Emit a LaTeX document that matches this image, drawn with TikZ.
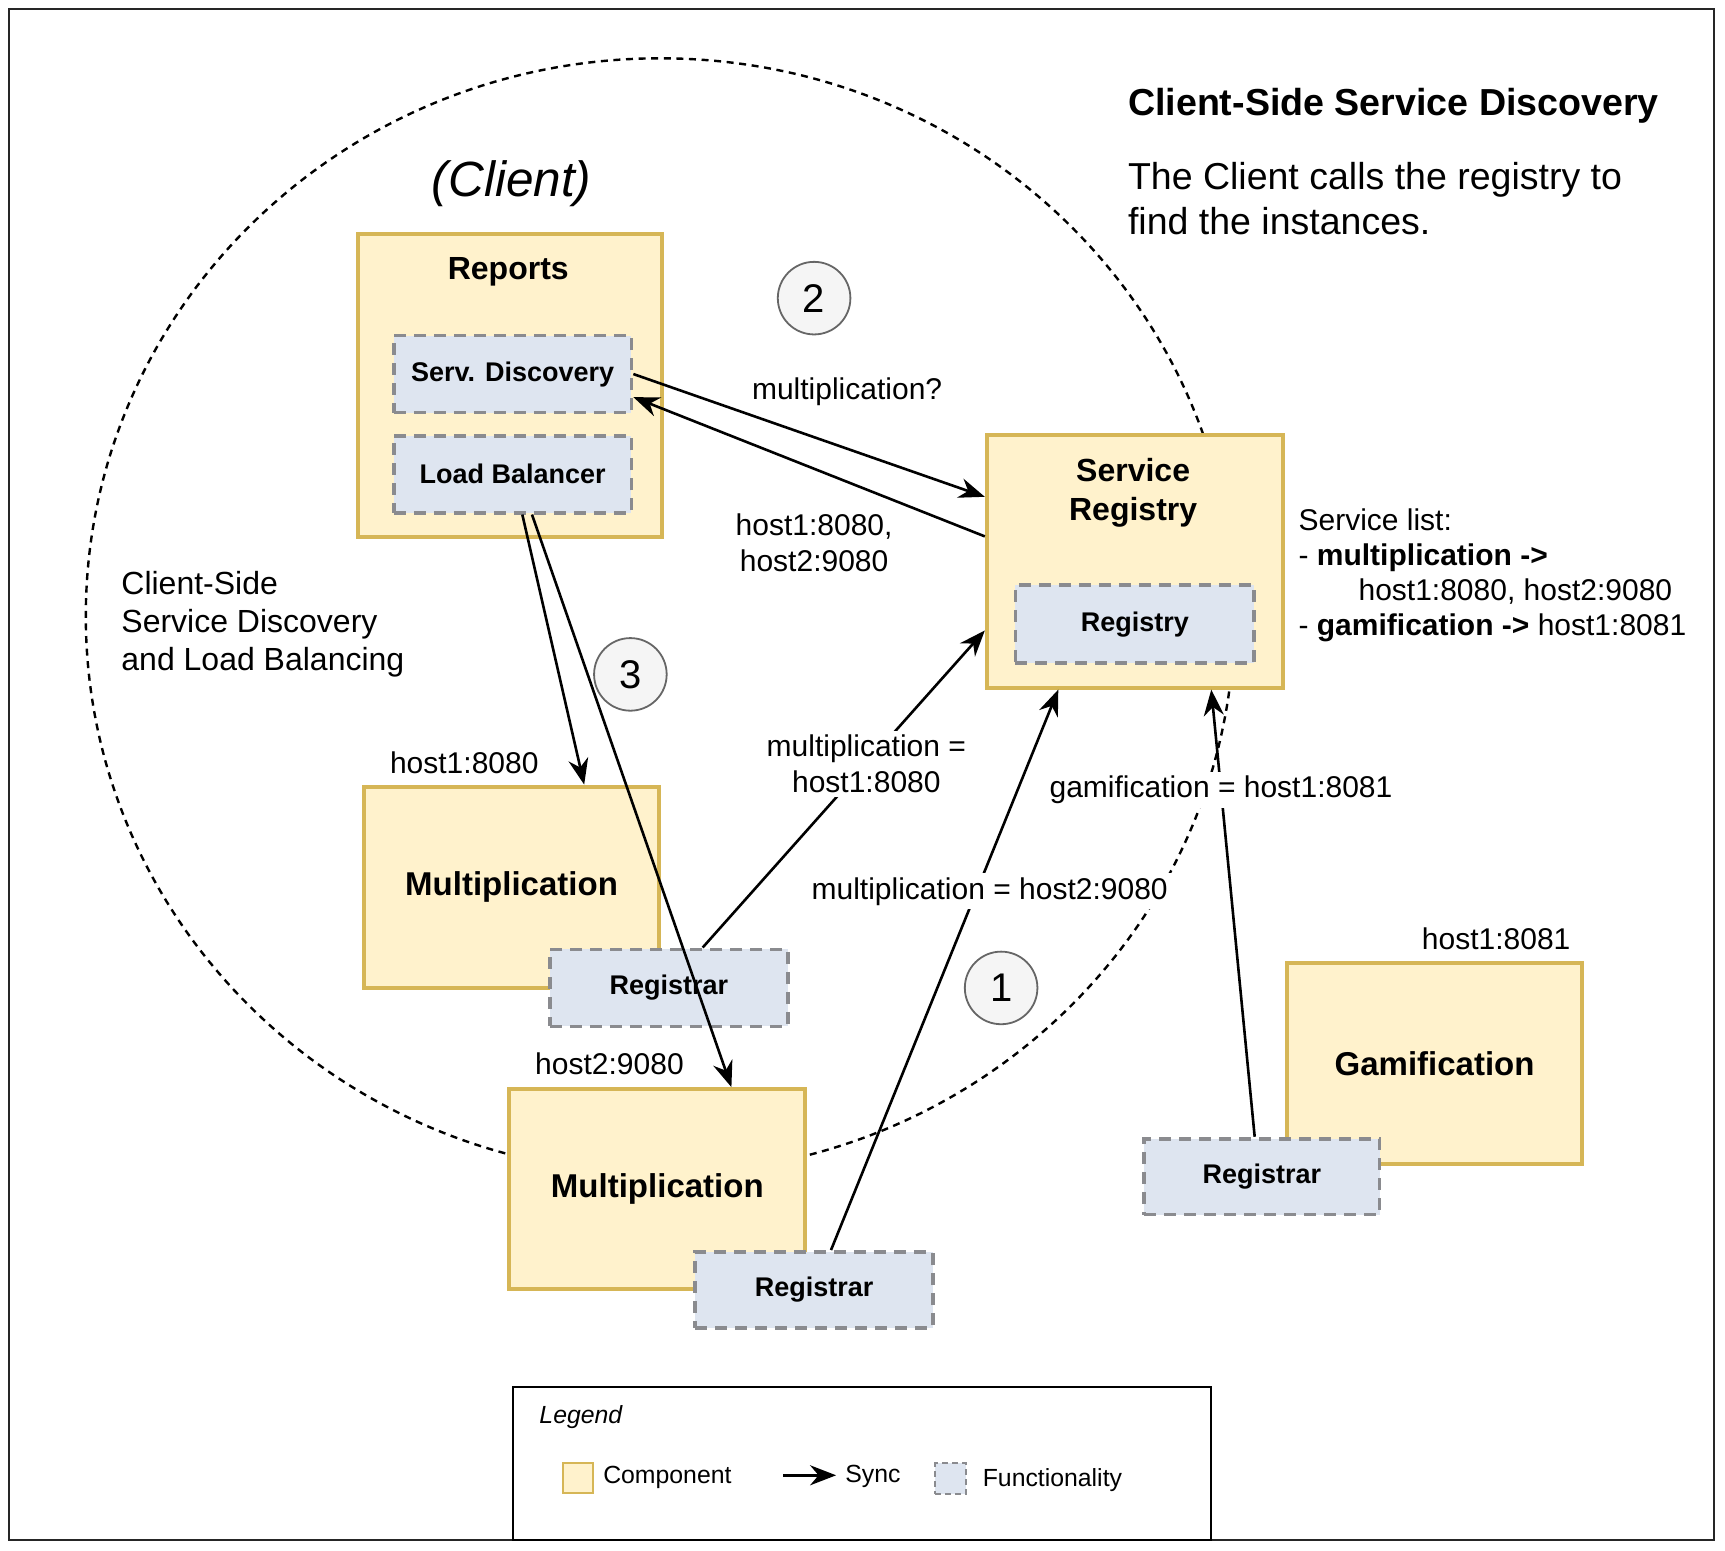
\documentclass[tikz,border=0pt]{standalone}
\usepackage{fontspec}
\setmainfont{Liberation Sans}
\usetikzlibrary{arrows.meta, calc, positioning}
\definecolor{compfill}{HTML}{FFF2CC}
\definecolor{compline}{HTML}{D6B656}
\definecolor{funcfill}{HTML}{DEE5F0}
\definecolor{funcline}{HTML}{8A8B8F}
\definecolor{numfill}{HTML}{F5F5F5}
\definecolor{numline}{HTML}{666666}
\newcommand{\fs}[2]{\fontsize{#1}{#2}\selectfont}

\begin{document}
\begin{tikzpicture}[x=0.55pt, y=-0.55pt,
  wh/.style 2 args={minimum width=#1*0.55pt, minimum height=#2*0.55pt}]
\tikzstyle{every node}+=[inner sep=0pt]
\tikzstyle{comp}=[draw=compline, fill=compfill, line width=2pt]
\tikzstyle{func}=[draw=funcline, fill=funcfill, line width=1.9pt, dash pattern=on 6pt off 4pt, font=\fs{13.5}{16}\bfseries]
\tikzstyle{big}=[font=\fs{16.5}{20}\bfseries]
\tikzstyle{num}=[circle, draw=numline, fill=numfill, line width=0.9pt, minimum size=36.3pt, font=\fs{20}{24}]
\tikzstyle{lbl}=[font=\fs{15}{18}, align=center]
\tikzstyle{cut}=[lbl, fill=white, inner sep=2pt]
\tikzstyle{sync}=[-{Stealth[length=13pt, width=10pt]}, line width=1.3pt, black]
\tikzstyle{key}=[font=\fs{12.4}{15}, anchor=west]
\useasboundingbox (0,0) rectangle (1568,1409);
\draw [line width=1pt, black!85] (8,8) rectangle (1558,1400);
\draw [line width=1.2pt, dash pattern=on 3.5pt off 2.8pt] (600,560) ellipse [x radius=522, y radius=507];

\node [font=\fs{18.8}{22.5}\bfseries, anchor=west] (title) at (1025,96) {Client-Side Service Discovery};
\node [font=\fs{18.75}{22.5}, anchor=west, align=left] (desc) at (1025,180.5) {The Client calls the registry to\\find the instances.};
\node [font=\fs{24.75}{29}\itshape] (client) at (465,167) {(Client)};
\node [font=\fs{16}{19}, anchor=west, align=left] (sidenote) at (110,567.5) {Client-Side\\Service Discovery\\and Load Balancing};

\node [comp, wh={277}{275}] (reports) at (463.5,350.5) {};
\node [font=\fs{16}{19.8}\bfseries] (reportsT) at (462,247) {Reports};
\node [func, wh={216}{70}] (servdisc) at (466,340) {Serv. Discovery};
\node [func, wh={216}{70}] (loadbal) at (466,431) {Load Balancer};

\node [comp, wh={269}{230}] (registry) at (1031.5,510) {};
\node [font=\fs{16}{19.8}\bfseries, align=center] (registryT) at (1030,448) {Service\\Registry};
\node [func, wh={217}{71}] (reg) at (1031.5,567.5) {Registry};
\node [font=\fs{15}{17.6}, anchor=west, align=left] (servlist) at (1180,523) {Service list:\\- \textbf{multiplication ->}\\\hspace*{30pt}host1:8080, host2:9080\\- \textbf{gamification ->} host1:8081};

\node [comp, wh={268}{183}, big] (mult1) at (465,806.5) {Multiplication};
\node [func, wh={216}{70}] (rgr1) at (608,898) {Registrar};
\node [lbl] (host1) at (422,693) {host1:8080};

\node [comp, wh={269}{182}, big] (mult2) at (597.5,1081) {Multiplication};
\node [func, wh={216}{69}] (rgr2) at (740,1172.5) {Registrar};
\node [lbl] (host2) at (554,967) {host2:9080};

\node [comp, wh={268}{183}, big] (gami) at (1304,966.5) {Gamification};
\node [func, wh={214}{69}] (rgr3) at (1147,1069.5) {Registrar};
\node [lbl] (host3) at (1360,853) {host1:8081};

\node [num] (n2) at (740,271) {2};
\node [num] (n3) at (573,613) {3};
\node [num] (n1) at (910,898) {1};

\draw [sync] (servdisc.east) -- ($(registry.north west)!0.25!(registry.south west)$);
\draw [sync] ($(registry.north west)!0.404!(registry.south west)$) -- ($(servdisc.north east)!0.786!(servdisc.south east)$);
\node [lbl] (ask) at (770,356) {multiplication?};
\node [lbl] (answer) at (740,493) {host1:8080,\\host2:9080};

\draw [sync] ($(loadbal.south west)!0.54!(loadbal.south east)$) -- ($(mult1.north west)!0.743!(mult1.north east)$);
\draw [sync] ($(loadbal.south west)!0.58!(loadbal.south east)$) -- ($(mult2.north west)!0.747!(mult2.north east)$);

\draw [sync] ($(rgr1.north west)!0.64!(rgr1.north east)$) -- node [cut, pos=0.58] (reg1) {multiplication =\\host1:8080} ($(registry.north west)!0.77!(registry.south west)$);
\draw [sync] ($(rgr2.north west)!0.57!(rgr2.north east)$) -- node [cut, pos=0.64, xshift=12*0.55pt] (reg2) {multiplication = host2:9080} ($(registry.south west)!0.245!(registry.south east)$);
\draw [sync] ($(rgr3.north west)!0.47!(rgr3.north east)$) -- node [cut, pos=0.776] (reg3) {gamification = host1:8081} ($(registry.south west)!0.755!(registry.south east)$);

\node [draw, line width=1pt, wh={635}{139}] (legend) at (783.5,1330.5) {};
\node [key, font=\fs{12.4}{15}\itshape] (legendT) at (490,1288) {Legend};
\node [comp, line width=1.2pt, wh={27}{27}] (keycomp) at (525.5,1343.5) {};
\node [key] (keycompT) at (548,1343) {Component};
\coordinate (syncA) at (712,1341);
\coordinate (syncB) at (760,1341);
\draw [sync] (syncA) -- (syncB);
\node [key] (syncT) at (768,1342) {Sync};
\node [func, line width=1pt, dash pattern=on 3pt off 2pt, wh={28}{28}] (keyfunc) at (864,1344) {};
\node [key] (keyfuncT) at (893,1345) {Functionality};
\end{tikzpicture}
\end{document}
